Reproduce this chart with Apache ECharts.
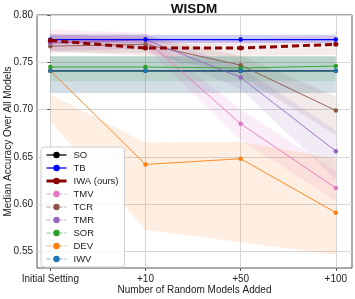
<!DOCTYPE html>
<html><head><meta charset="utf-8">
<script src="https://cdn.jsdelivr.net/npm/echarts@6/dist/echarts.min.js"></script>
<style>html,body{margin:0;padding:0;background:#fff}#c{width:355px;height:299px}</style>
</head><body><div id="c"></div>
<script>
const categories = ['Initial Setting', '+10', '+50', '+100'];
const yTicks = [0.55, 0.60, 0.65, 0.70, 0.75, 0.80];
const title = 'WISDM';
const xName = 'Number of Random Models Added';
const yName = 'Median Accuracy Over All Models';

const names = ['SO', 'TB', 'IWA (ours)', 'TMV', 'TCR', 'TMR', 'SOR', 'DEV', 'IWV'];

const SO  = [0.741, 0.741, 0.741, 0.741];
const TB  = [0.774, 0.774, 0.774, 0.774];
const IWA = [0.773, 0.765, 0.765, 0.769];
const TMV = [0.771, 0.774, 0.685, 0.617];
const TCR = [0.767, 0.769, 0.747, 0.699];
const TMR = [0.770, 0.774, 0.734, 0.656];
const SOR = [0.745, 0.745, 0.744, 0.746];
const DEV = [0.741, 0.642, 0.648, 0.591];
const IWV = [0.741, 0.741, 0.741, 0.741];

const SO_lo  = [0.7175, 0.7175, 0.7175, 0.7175], SO_hi  = [0.7565, 0.7565, 0.7565, 0.7565];
const TB_lo  = [0.7705, 0.7705, 0.7705, 0.7705], TB_hi  = [0.779, 0.779, 0.779, 0.779];
const IWA_lo = [0.762, 0.757, 0.757, 0.758],     IWA_hi = [0.780, 0.776, 0.775, 0.778];
const TMV_lo = [0.762, 0.765, 0.668, 0.603],     TMV_hi = [0.785, 0.781, 0.700, 0.635];
const TCR_lo = [0.760, 0.760, 0.735, 0.673],     TCR_hi = [0.778, 0.778, 0.757, 0.714];
const TMR_lo = [0.762, 0.764, 0.722, 0.626],     TMR_hi = [0.780, 0.780, 0.745, 0.678];
const SOR_lo = [0.730, 0.730, 0.730, 0.730],     SOR_hi = [0.7565, 0.7565, 0.7565, 0.7565];
const DEV_lo = [0.687, 0.5728, 0.5597, 0.5463],  DEV_hi = [0.716, 0.665, 0.666, 0.648];
const IWV_lo = [0.7175, 0.7175, 0.7175, 0.7175], IWV_hi = [0.7565, 0.7565, 0.7565, 0.7565];

const colors = ['#000000', '#0000ff', '#8b0000', '#e377c2', '#8c564b', '#9467bd', '#2ca02c', '#ff7f0e', '#1f77b4'];
const medians = [SO, TB, IWA, TMV, TCR, TMR, SOR, DEV, IWV];
const lows = [SO_lo, TB_lo, IWA_lo, TMV_lo, TCR_lo, TMR_lo, SOR_lo, DEV_lo, IWV_lo];
const highs = [SO_hi, TB_hi, IWA_hi, TMV_hi, TCR_hi, TMR_hi, SOR_hi, DEV_hi, IWV_hi];
const bandAlpha = [0.08, 0.18, 0.08, 0.13, 0.12, 0.13, 0.15, 0.12, 0.12];

const FONT = 'Liberation Sans';
const chart = echarts.init(document.getElementById('c'), null, {renderer: 'canvas'});

const series = [];
names.forEach((n, k) => {
  series.push({
    type: 'custom', silent: true, z: 1,
    data: [[0]],
    renderItem: function (params, api) {
      const pts = [];
      for (let i = 0; i < highs[k].length; i++) pts.push(api.coord([i, highs[k][i]]));
      for (let i = lows[k].length - 1; i >= 0; i--) pts.push(api.coord([i, lows[k][i]]));
      return {type: 'polygon', shape: {points: pts},
        style: {fill: colors[k], opacity: bandAlpha[k]}};
    }
  });
});
const widths = [1.3, 1.3, 3, 0.9, 0.9, 0.9, 0.9, 0.9, 0.9];
const types = ['solid', 'solid', [7, 4], 'solid', 'solid', 'solid', 'solid', 'solid', 'solid'];
const zs = [3, 4, 5, 3, 3, 3, 3, 3, 6];
names.forEach((n, k) => {
  series.push({
    name: n, type: 'line', z: zs[k],
    data: medians[k].map((v, i) => [i, v]),
    symbol: 'circle', symbolSize: k === 2 ? 5 : 4.5,
    itemStyle: {color: colors[k]},
    lineStyle: {color: colors[k], width: widths[k], type: types[k]},
    emphasis: {disabled: true}, animation: false
  });
});

chart.setOption({
  animation: false,
  title: {text: title, left: 194, top: 2, textAlign: 'center', padding: 0,
    textStyle: {fontFamily: FONT, fontSize: 13.5, fontWeight: 'bold', color: '#111'}},
  grid: {left: 37, right: 3, top: 15, bottom: 31, show: true, borderColor: '#555', borderWidth: 1,
    containLabel: false, outerBoundsMode: 'none'},
  legend: {
    orient: 'vertical', left: 41, top: 147, data: names.map((n, k) => ({name: n, itemStyle: {color: colors[k]}, lineStyle: {type: k < 3 ? 'solid' : 'dashed', width: k === 2 ? 3 : (k < 2 ? 1.3 : 1), opacity: k < 3 ? 1 : 0.6}})),
    itemWidth: 20, itemHeight: 8, itemGap: 3,
    padding: [3, 6, 3, 4],
    backgroundColor: 'rgba(255,255,255,0.85)', borderColor: '#cccccc', borderWidth: 1, borderRadius: 3,
    textStyle: {fontFamily: FONT, fontSize: 9.5, color: '#222', padding: [0, 0, 0, 2]}
  },
  xAxis: {
    type: 'value', min: -0.14, max: 3.17,
    name: xName, nameLocation: 'middle', nameGap: 17, nameMoveOverlap: false,
    nameTextStyle: {fontFamily: FONT, fontSize: 10, color: '#222'},
    axisLine: {show: false},
    axisTick: {show: true, customValues: [0, 1, 2, 3], length: 3, lineStyle: {color: '#555'}},
    axisLabel: {customValues: [0, 1, 2, 3], formatter: v => categories[Math.round(v)], fontFamily: FONT, fontSize: 10, color: '#222', margin: 6},
    splitLine: {show: true, lineStyle: {color: '#d6d6d6', width: 1}}
  },
  yAxis: {
    type: 'value', min: 0.5325, max: 0.80,
    name: yName, nameLocation: 'middle', nameGap: 24, nameMoveOverlap: false,
    nameTextStyle: {fontFamily: FONT, fontSize: 10, color: '#222'},
    axisLine: {show: false},
    axisTick: {show: true, customValues: yTicks, length: 3, lineStyle: {color: '#555'}},
    axisLabel: {customValues: yTicks, formatter: v => v.toFixed(2), fontFamily: FONT, fontSize: 10, color: '#222', margin: 4},
    splitLine: {show: true, lineStyle: {color: '#d6d6d6', width: 1}}
  },
  series: series
});
</script></body></html>
